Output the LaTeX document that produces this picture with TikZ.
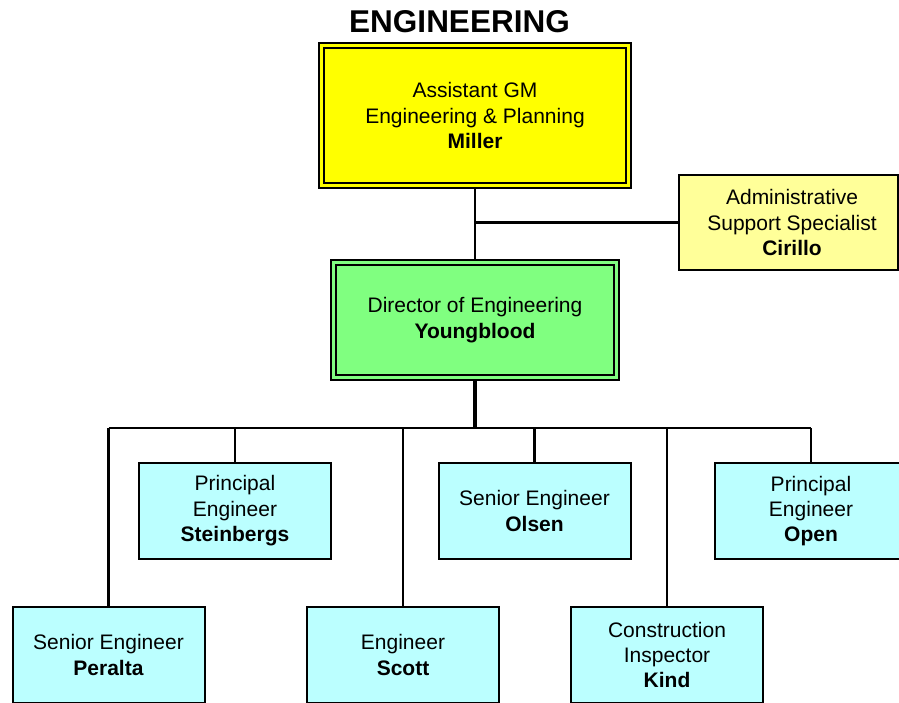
\documentclass[tikz,border=0pt]{standalone}
\usepackage{fontspec}
\setmainfont{Liberation Sans}
\definecolor{gmyellow}{HTML}{FFFF00}
\definecolor{paleyellow}{HTML}{FFFF99}
\definecolor{dirgreen}{HTML}{80FF80}
\definecolor{palecyan}{HTML}{BBFFFF}
\tikzset{
  orgbox/.style={draw=black, line width=2pt, rectangle, inner sep=0pt, outer sep=0pt,
    align=center, font=\fontsize{21}{25.4}\selectfont},
  staffbox/.style={orgbox, fill=palecyan, minimum width=192pt, minimum height=96pt},
  link/.style={draw=black, line width=2.2pt},
  buslink/.style={draw=black, line width=2.6pt},
}
\begin{document}
\begin{tikzpicture}[x=1pt, y=-1pt]
  \useasboundingbox (0,0) rectangle (899,702);
  \clip (0,0) rectangle (899,702);

  % heading
  \node[font=\fontsize{31.5}{36}\selectfont\bfseries] (title) at (459.5,22) {ENGINEERING};

  % management
  \node[orgbox, fill=gmyellow, minimum width=312pt, minimum height=145pt] (agm) at (475,115.5)
    {Assistant GM\\Engineering \& Planning\\\textbf{Miller}};
  \draw[line width=2.4pt] ([shift={(5,5)}]agm.north west) rectangle ([shift={(-5,-5)}]agm.south east);

  \node[orgbox, fill=paleyellow, minimum width=219pt, minimum height=95pt] (admin) at (788.5,222.5)
    {\hspace*{7pt}Administrative\\\hspace*{7pt}Support Specialist\\\hspace*{7pt}\textbf{Cirillo}};

  \node[orgbox, fill=dirgreen, minimum width=288pt, minimum height=120pt] (dir) at (475,320)
    {Director of Engineering\\\textbf{Youngblood}};
  \draw[line width=2.4pt] ([shift={(5,5)}]dir.north west) rectangle ([shift={(-5,-5)}]dir.south east);

  % staff, upper row
  \node[staffbox] (stein) at (235,511) {Principal\\Engineer\\\textbf{Steinbergs}};
  \node[staffbox] (olsen) at (534.5,511) {Senior Engineer\\\textbf{Olsen}};
  \node[staffbox] (open)  at (811,511) {Principal\\Engineer\\\textbf{Open}};

  % staff, lower row
  \node[staffbox] (peralta) at (108.5,655) {Senior Engineer\\\textbf{Peralta}};
  \node[staffbox] (scott)   at (403,655) {Engineer\\\textbf{Scott}};
  \node[staffbox] (kind)    at (667,655) {Construction\\Inspector\\\textbf{Kind}};

  % reporting lines
  \coordinate (bus) at (475,428);
  \draw[link] (agm.south) -- (dir.north);
  \draw[link] (agm.south |- admin.west) -- (admin.west);
  \draw[line width=3.2pt] (dir.south) -- (bus);
  \draw[buslink] (peralta.north |- bus) -- (open.north |- bus);
  \foreach \n in {peralta, stein, scott, olsen, kind, open}
    \draw[link] (\n.north |- bus) -- (\n.north);
\end{tikzpicture}
\end{document}
